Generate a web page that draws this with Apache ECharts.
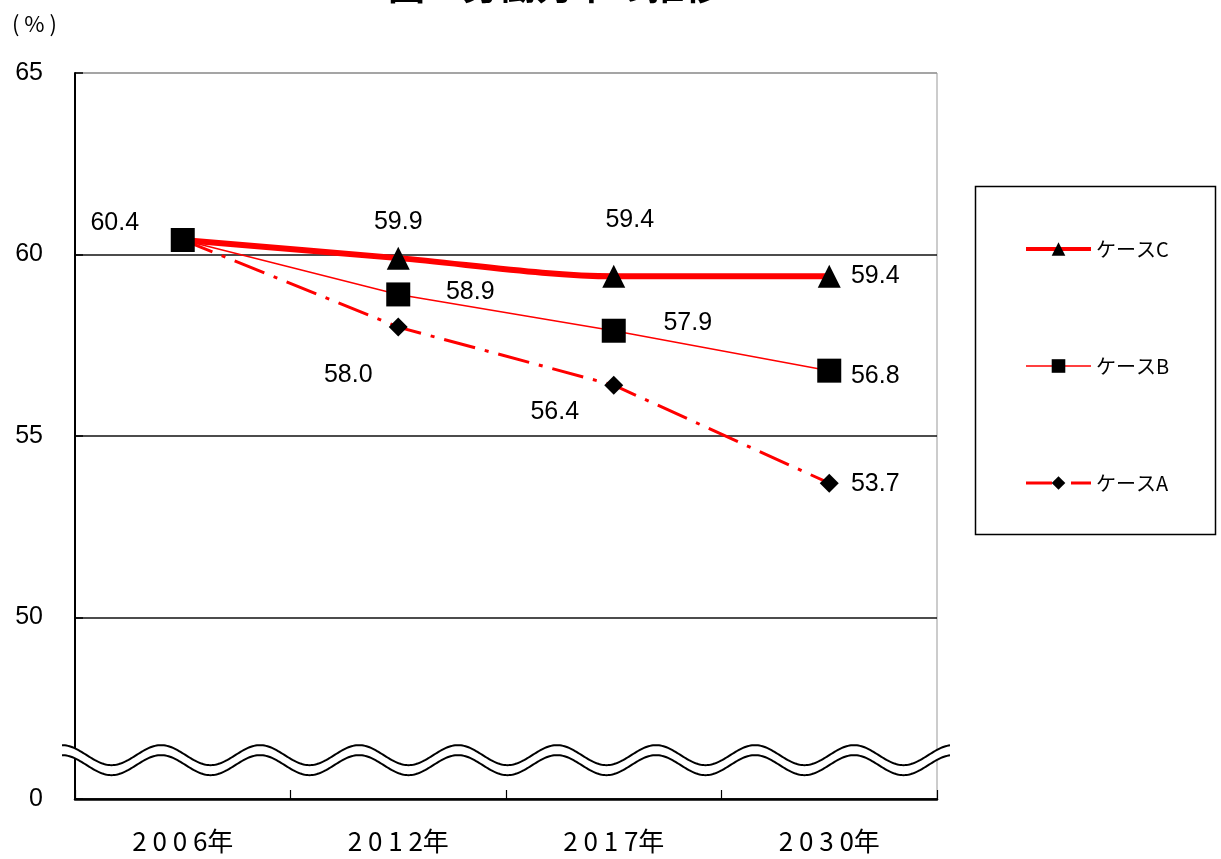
<!DOCTYPE html>
<html><head><meta charset="utf-8">
<script src="https://cdn.jsdelivr.net/npm/echarts@6/dist/echarts.min.js"></script>
<style>html,body{margin:0;padding:0;background:#fff}#c{width:1221px;height:859px}</style>
</head><body><div id="c"></div>
<script>
// ---- data ----
const categories = ['2006年', '2012年', '2017年', '2030年'];
const seriesNames = ['ケースC', 'ケースB', 'ケースA'];
const caseC = [60.4, 59.9, 59.4, 59.4];
const caseB = [60.4, 58.9, 57.9, 56.8];
const caseA = [60.4, 58.0, 56.4, 53.7];
const yTickValues = [45, 50, 55, 60, 65];   // broken axis: 45 is shown as 0
const yTickLabels = ['0', '50', '55', '60', '65'];
const breakValue = 46.07;                   // where the wavy break mark sits

// ---- style / layout ----
const W = 1221, H = 859;
const G = { left: 75, top: 73, right: 284, bottom: 60 };
const labelFont = 'Liberation Sans, Arial, sans-serif';
const jpFont = '"Noto Sans CJK JP", sans-serif';
const dashA = [32, 10, 4, 10];
// label offsets per point (null = no label)
const offC = [null, [0, -36], [16, -56], [46, 0]];
const offB = [[-68, -17], [72, -2], [74, -8], [46, 5]];
const offA = [null, [-50, 48], [-59, 27], [46, 1]];

function build(values, offs) {
  return values.map((v, i) => ({
    value: v,
    label: offs[i] ? { show: true, offset: offs[i] } : { show: false }
  }));
}
const baseLabel = {
  show: true, position: 'inside', color: '#000', fontSize: 25,
  fontFamily: labelFont, align: 'center', verticalAlign: 'middle',
  formatter: p => p.value.toFixed(1)
};

const chart = echarts.init(document.getElementById('c'), null, { renderer: 'canvas' });
const option = {
  animation: false,
  backgroundColor: '#fff',
  grid: { left: G.left, top: G.top, right: G.right, bottom: G.bottom,
          show: true, borderColor: '#999', borderWidth: 1, backgroundColor: 'transparent' },
  legend: {
    orient: 'vertical', left: 1019, top: 234, itemWidth: 65, itemHeight: 17, itemGap: 97,
    data: [
      { name: 'ケースC', lineStyle: { color: '#ff0000', width: 4 } },
      { name: 'ケースB', lineStyle: { color: '#ff0000', width: 1.5 } },
      { name: 'ケースA', lineStyle: { color: '#ff0000', width: 3, type: [26, 8, 3, 8] } }
    ],
    itemStyle: { color: '#000' },
    textStyle: { fontSize: 20, fontFamily: jpFont, color: '#000' }
  },
  xAxis: {
    type: 'category', data: categories, boundaryGap: true,
    axisLine: { lineStyle: { color: '#000', width: 2.5 } },
    axisTick: { show: true, inside: true, length: 9, lineStyle: { color: '#000', width: 1.2 } },
    axisLabel: { margin: 29, fontSize: 26, fontFamily: jpFont, color: '#000',
      formatter: v => v.slice(0, 4).split('').join(' ') + v.slice(4) },
    splitLine: { show: false }
  },
  yAxis: {
    type: 'value', min: 45, max: 65, interval: 5,
    axisLine: { show: true, lineStyle: { color: '#000', width: 2 } },
    axisTick: { show: true, inside: true, length: 8, lineStyle: { color: '#000', width: 1.5 } },
    axisLabel: { margin: 32, fontSize: 25, fontFamily: labelFont, color: '#000',
      formatter: v => yTickLabels[yTickValues.indexOf(v)] },
    splitLine: { show: true, lineStyle: { color: ['#000', '#111', '#111', '#111', '#999'], width: 1.5 } }
  },
  series: [
    { name: 'ケースA', type: 'line', data: build(caseA, offA), z: 2,
      symbol: 'diamond', symbolSize: 19, itemStyle: { color: '#000' },
      lineStyle: { color: '#ff0000', width: 3, type: dashA },
      label: baseLabel },
    { name: 'ケースC', type: 'line', data: build(caseC, offC), z: 3, smooth: 0.3,
      symbol: 'triangle', symbolSize: 23, itemStyle: { color: '#000' },
      lineStyle: { color: '#ff0000', width: 6 },
      label: baseLabel },
    { name: 'ケースB', type: 'line', data: build(caseB, offB), z: 4,
      symbol: 'rect', symbolSize: 24, itemStyle: { color: '#000' },
      lineStyle: { color: '#ff0000', width: 1.5 },
      label: baseLabel }
  ]
};
chart.setOption(option);

function waveGraphics() {
  const yMid = chart.convertToPixel({ yAxisIndex: 0 }, breakValue);
  const x0 = G.left - 13, x1 = W - G.right + 13;
  const period = 99, amp = 10, sep = 10;
  const up = [], lo = [];
  for (let x = x0; x <= x1 + 0.01; x += 1.5) {
    const y = yMid - sep / 2 - amp * Math.cos(2 * Math.PI * (x - x0) / period);
    up.push([x, y]); lo.push([x, y + sep]);
  }
  return [
    { type: 'polygon', z: 100, shape: { points: up.concat(lo.slice().reverse()) },
      style: { fill: '#fff', stroke: null } },
    { type: 'polyline', z: 101, shape: { points: up }, style: { stroke: '#000', lineWidth: 2, fill: null } },
    { type: 'polyline', z: 101, shape: { points: lo }, style: { stroke: '#000', lineWidth: 2, fill: null } }
  ];
}

chart.setOption({
  graphic: [
    { type: 'text', z: 50, style: { text: '図　労働力率の推移', x: 388, y: -14,
        font: 'bold 37px "Noto Sans CJK JP", sans-serif', fill: '#000', textVerticalAlign: 'middle' } },
    { type: 'text', z: 50, style: { text: '( % )', x: 12, y: 24,
        font: '22px "Noto Sans CJK JP", sans-serif', fill: '#000', textVerticalAlign: 'middle' } },
    { type: 'rect', z: 50, shape: { x: 975.5, y: 186.5, width: 240, height: 348 },
      style: { fill: null, stroke: '#000', lineWidth: 1.5 } }
  ].concat(waveGraphics())
});
</script>
</body></html>
